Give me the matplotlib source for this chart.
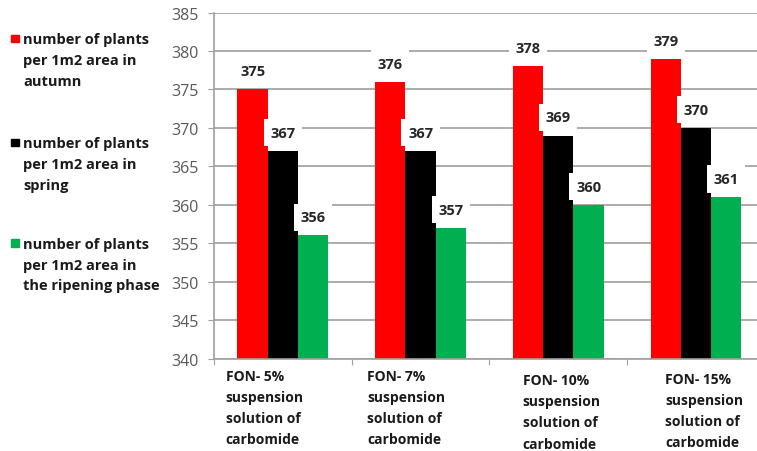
import matplotlib.pyplot as plt
from matplotlib.patches import Rectangle
import numpy as np

plt.rcParams['font.family'] = ['Open Sans', 'DejaVu Sans']

categories = ['FON- 5%\nsuspension\nsolution of\ncarbomide',
              'FON- 7%\nsuspension\nsolution of\ncarbomide',
              'FON- 10%\nsuspension\nsolution of\ncarbomide',
              'FON- 15%\nsuspension\nsolution of\ncarbomide']
autumn = [375, 376, 378, 379]
spring = [367, 367, 369, 370]
ripening = [356, 357, 360, 361]

series_names = ['number of plants\nper 1m2 area in\nautumn',
                'number of plants\nper 1m2 area in\nspring',
                'number of plants\nper 1m2 area in\nthe ripening phase']
colors = ['#ff0000', '#000000', '#00b050']

fig = plt.figure(figsize=(7.57, 4.52), dpi=100)
ax = fig.add_axes([0.2827, 0.2046, 0.7173, 0.7655])

x = np.arange(len(categories))
w = 0.22
for i, (vals, col) in enumerate(zip([autumn, spring, ripening], colors)):
    xs = x + (i - 1) * w
    ax.bar(xs, [v - 340 for v in vals], w, bottom=340, color=col, zorder=2)
    for xi, v in zip(xs, vals):
        ax.annotate(str(v), (xi, v), xytext=(0, 13), textcoords='offset points',
                    ha='center', va='center', fontsize=10.5, fontweight='bold',
                    color='#262626', zorder=4,
                    bbox=dict(boxstyle='square,pad=0.45', fc='white', ec='none'))

ax.set_ylim(340, 385)
ax.set_yticks(range(340, 386, 5))
ax.set_xlim(-0.5, 3.443)
ax.set_xticks([-0.5, 0.5, 1.5, 2.5])
ax.set_xticklabels([])
ax.yaxis.grid(True, color='#ababab', linewidth=1.4, zorder=0)
ax.set_axisbelow(True)
for s in ['top', 'right']:
    ax.spines[s].set_visible(False)
for s in ['left', 'bottom']:
    ax.spines[s].set_color('#a0a0a0')
    ax.spines[s].set_linewidth(1.2)
ax.tick_params(axis='y', direction='out', length=4, color='#a0a0a0',
               labelsize=11.5, labelcolor='#595959', pad=7)
ax.tick_params(axis='x', direction='out', length=4, color='#a0a0a0')

# category labels under each group, left aligned
label_x = [-0.415, 0.611, 1.742, 2.775]
label_y = [-0.029, -0.029, -0.043, -0.038]
for lx, ly, txt in zip(label_x, label_y, categories):
    ax.text(lx, ly, txt, transform=ax.get_xaxis_transform(), ha='left', va='top',
            fontsize=10, fontweight='bold', linespacing=1.64, color='#1a1a1a')

# legend on the left
legend_tops = [0.927, 0.697, 0.474]
for top, name, col in zip(legend_tops, series_names, colors):
    fig.patches.append(Rectangle((0.0145, top - 0.023), 0.0105, 0.017,
                                 transform=fig.transFigure, color=col))
    fig.text(0.031, top, name, ha='left', va='top', fontsize=10.5,
             fontweight='bold', linespacing=1.62, color='#1a1a1a')

fig.savefig('out.png', dpi=100)
